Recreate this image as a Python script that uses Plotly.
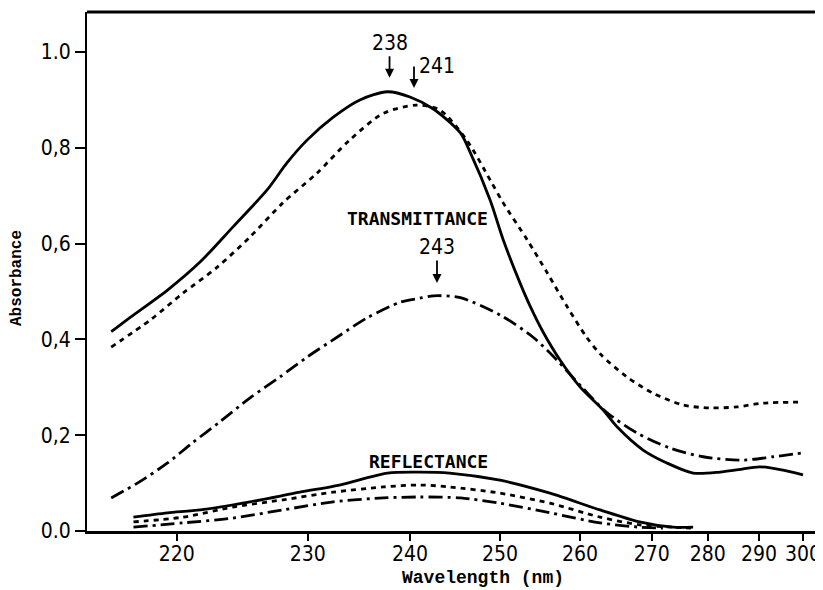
import numpy as np
import plotly.graph_objects as go

# ---- axis scale of the original (hand-drawn, non-linear wavelength axis) ----
TICK_WL = [220, 230, 240, 250, 260, 270, 280, 290, 300]
TICK_POS = [89.7, 220.7, 323, 413, 493, 564.7, 620.7, 672, 716]
X_RANGE = [0, 735]

Y_TICKS = [0.0, 0.2, 0.4, 0.6, 0.8, 1.0]
Y_TICKTEXT = ["0.0", "0,2", "0,4", "0,6", "0,8", "1.0"]

# ---- data: transmittance spectra ----
t1_wl = [215, 216.2, 219.3, 221.8, 224.3, 226.9, 228.4, 229.95, 232.5, 235.1, 237.8, 240,
         242.6, 245.6, 246.7, 248.9, 250.4, 252.5, 253.75, 255.4, 257.5, 260, 263.2,
         265.2, 268.8, 272.7, 277.4, 282.4, 286, 290.2, 295.5, 300]
t1_abs = [0.416, 0.441, 0.503, 0.562, 0.635, 0.712, 0.768, 0.816, 0.864, 0.900, 0.917, 0.906,
          0.881, 0.831, 0.790, 0.691, 0.608, 0.518, 0.470, 0.415, 0.357, 0.301, 0.253,
          0.217, 0.169, 0.142, 0.121, 0.123, 0.128, 0.134, 0.127, 0.117]

t2_wl = [215, 218, 220.5, 223.1, 225.6, 228.1, 230.9, 234.1, 237.4, 240.7, 243.3, 246.3,
         248.9, 250.4, 253.4, 255.9, 258.4, 260.9, 262.8, 266.5, 270.2, 275.6, 280.4,
         285.7, 290.9, 300]
t2_abs = [0.384, 0.441, 0.497, 0.551, 0.614, 0.685, 0.747, 0.816, 0.872, 0.889, 0.879, 0.816,
          0.733, 0.685, 0.608, 0.539, 0.468, 0.405, 0.370, 0.322, 0.288, 0.263, 0.257,
          0.259, 0.267, 0.269]

t3_wl = [215, 217, 219.3, 221.2, 223.3, 225.6, 227.9, 229.95, 232.9, 235.8, 239.1, 241.1,
         242.6, 245.6, 250, 254.1, 257.1, 260.4, 263.7, 267.9, 273.3, 279.2, 286.9,
         293.2, 300]
t3_abs = [0.069, 0.100, 0.142, 0.184, 0.228, 0.278, 0.322, 0.363, 0.405, 0.445, 0.478, 0.486,
          0.491, 0.487, 0.451, 0.405, 0.357, 0.298, 0.248, 0.205, 0.173, 0.155, 0.148,
          0.155, 0.163]

# ---- data: reflectance spectra ----
r1_wl = [216.7, 219.3, 221.8, 225.6, 229.4, 233.1, 237.8, 241.1, 244.4, 250, 256.25,
         262.8, 268.3, 273.8, 277.4]
r1_abs = [0.029, 0.038, 0.044, 0.061, 0.081, 0.096, 0.121, 0.123, 0.121, 0.106, 0.079,
          0.044, 0.019, 0.008, 0.008]

r2_wl = [216.7, 220.5, 224.3, 228.1, 232.5, 237.4, 241.1, 244.4, 250, 256.25, 262.8,
         268.3, 273.8, 277]
r2_abs = [0.019, 0.029, 0.050, 0.065, 0.081, 0.092, 0.096, 0.092, 0.079, 0.058, 0.029,
          0.013, 0.008, 0.006]

r3_wl = [216.7, 220.5, 224.3, 228.1, 232.5, 237.4, 241.1, 245.6, 250, 256.25, 262.8,
         268.3, 272]
r3_abs = [0.008, 0.017, 0.027, 0.044, 0.061, 0.069, 0.071, 0.069, 0.058, 0.038, 0.017,
          0.008, 0.006]

PEAKS = [238, 241, 243]


def to_pos(wl):
    wl = np.atleast_1d(np.asarray(wl, dtype=float))
    pos = np.interp(wl, TICK_WL, TICK_POS)
    slope0 = (TICK_POS[1] - TICK_POS[0]) / (TICK_WL[1] - TICK_WL[0])
    left = wl < TICK_WL[0]
    pos[left] = TICK_POS[0] + (wl[left] - TICK_WL[0]) * slope0
    return pos


SOLID = dict(color="black", width=2.8, shape="spline", smoothing=0.8)
DOTTED = dict(color="black", width=2.8, dash="5px,5px", shape="spline", smoothing=0.8)
DASHDOT = dict(color="black", width=2.8, dash="14px,5px,3px,5px", shape="spline", smoothing=0.8)

fig = go.Figure()
series = [
    (t1_wl, t1_abs, SOLID),
    (t2_wl, t2_abs, DOTTED),
    (t3_wl, t3_abs, DASHDOT),
    (r1_wl, r1_abs, SOLID),
    (r2_wl, r2_abs, DOTTED),
    (r3_wl, r3_abs, DASHDOT),
]
for wl, ab, ln in series:
    fig.add_trace(go.Scatter(x=to_pos(wl), y=ab, mode="lines", line=ln,
                             showlegend=False, hoverinfo="skip"))

NUM_FONT = dict(family="DejaVu Sans Condensed, Roboto, sans-serif", size=21, color="black")
LBL_FONT = dict(family="DejaVu Sans Mono, monospace", size=18, color="black", weight="bold")
TITLE_FONT = dict(family="Liberation Mono, Courier New, monospace", color="black", weight="bold")

annotations = [
    # 238 peak
    dict(x=to_pos(PEAKS[0])[0], y=0.946, xref="x", yref="y", text="238", showarrow=True,
         ax=0, ay=-35, arrowhead=2, arrowsize=1, arrowwidth=1.8, arrowcolor="black",
         font=NUM_FONT),
    # 241 peak (arrow and label offset to the right)
    dict(x=to_pos(PEAKS[1])[0] - 5, y=0.925, xref="x", yref="y", text="", showarrow=True,
         ax=0, ay=-23, arrowhead=2, arrowsize=1, arrowwidth=1.8, arrowcolor="black"),
    dict(x=to_pos(PEAKS[1])[0] - 2, y=0.971, xref="x", yref="y", text="241", showarrow=False,
         xanchor="left", yanchor="middle", font=NUM_FONT),
    # 243 peak
    dict(x=to_pos(PEAKS[2])[0], y=0.518, xref="x", yref="y", text="243", showarrow=True,
         ax=0, ay=-36, arrowhead=2, arrowsize=1, arrowwidth=1.8, arrowcolor="black",
         font=NUM_FONT),
    dict(x=to_pos(240.84)[0], y=0.653, xref="x", yref="y", text="TRANSMITTANCE",
         showarrow=False, font=LBL_FONT),
    dict(x=to_pos(242.06)[0], y=0.146, xref="x", yref="y", text="REFLECTANCE",
         showarrow=False, font=LBL_FONT),
    # axis titles
    dict(x=-0.0952, y=0.4875, xref="paper", yref="paper", text="Absorbance",
         textangle=-90, showarrow=False, xanchor="center", yanchor="middle",
         font=dict(TITLE_FONT, size=16)),
    dict(x=0.539, y=-0.0905, xref="paper", yref="paper", text="Wavelength (nm)",
         showarrow=False, xanchor="center", yanchor="middle",
         font=dict(TITLE_FONT, size=18)),
]

shapes = [
    dict(type="line", xref="paper", yref="paper", x0=0, x1=1, y0=1, y1=1,
         line=dict(color="black", width=3)),
    dict(type="line", xref="paper", yref="y", x0=0.9985, x1=0.9985, y0=0.768, y1=1.071,
         line=dict(color="#444", width=1.5)),
]

# page body adds an 8px offset, so the figure is sized to end at the window edge
fig.update_layout(
    width=815, height=582,
    margin=dict(l=79, r=1, t=4, b=59, autoexpand=False),
    paper_bgcolor="white", plot_bgcolor="white",
    annotations=annotations, shapes=shapes,
    xaxis=dict(range=X_RANGE, tickvals=TICK_POS, ticktext=[str(v) for v in TICK_WL],
               showgrid=False, zeroline=False, showline=True, linecolor="black",
               linewidth=3, ticks="outside", ticklen=7, tickwidth=2, tickcolor="black",
               tickfont=NUM_FONT, automargin=False, ticklabelstandoff=-5),
    yaxis=dict(range=[0, 1.0835], tickvals=Y_TICKS, ticktext=Y_TICKTEXT,
               showgrid=False, zeroline=False, showline=True, linecolor="black",
               linewidth=2, ticks="outside", ticklen=10, tickwidth=2, tickcolor="black",
               tickfont=NUM_FONT, automargin=False),
)

fig.write_html("out.html")
